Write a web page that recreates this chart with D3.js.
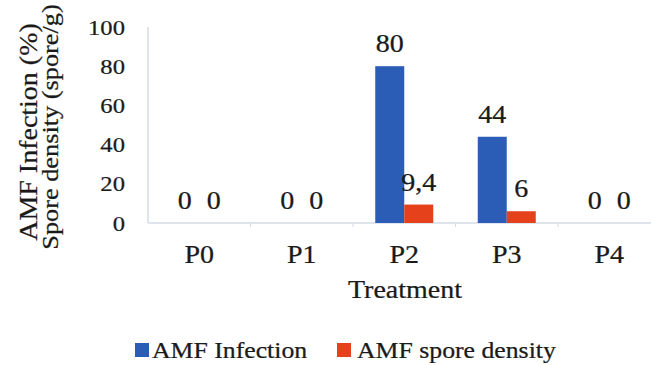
<!DOCTYPE html>
<html>
<head>
<meta charset="utf-8">
<script src="https://cdn.jsdelivr.net/npm/d3@7"></script>
<style>
  html, body { margin: 0; padding: 0; background: #fff; }
  svg { display: block; }
  text { font-family: "Liberation Serif", "Times New Roman", serif; fill: #1a1a1a; stroke: #1a1a1a; stroke-width: 0.25px; }
</style>
</head>
<body>
<svg id="chart" width="651" height="365"></svg>
<script>
const categories = ["P0", "P1", "P2", "P3", "P4"];
const seriesNames = ["AMF Infection", "AMF spore density"];
const infection = [0, 0, 80, 44, 0];
const sporeDensity = [0, 0, 9.4, 6, 0];
const yTicks = [0, 20, 40, 60, 80, 100];
const colors = ["#2b5cb6", "#e5421c"];
const yTitleLines = ["AMF Infection (%)", "Spore density (spore/g)"];
const xTitle = "Treatment";

const svg = d3.select("#chart");
const STRETCH = 1.12;
const locale = d3.formatLocale({decimal: ",", thousands: ".", grouping: [3], currency: ["", ""]});
const fmt = locale.format("~g");

function txt(x, y, s, size, anchor, rot) {
  return svg.append("text")
    .attr("transform", `translate(${x},${y}) rotate(${rot || 0}) scale(${STRETCH},1)`)
    .attr("text-anchor", anchor || "middle")
    .style("font-size", size + "px")
    .text(s);
}

const y = d3.scaleLinear().domain([0, 100]).range([223, 27]);
const x0 = d3.scaleBand().domain(categories).range([148, 660.5]).padding(0);
const x1 = d3.scaleBand().domain(seriesNames).range([0, x0.bandwidth()]).paddingInner(0).paddingOuter(0.767);

const axisColor = "#d3dcea";
svg.append("line").attr("x1", 148).attr("x2", 148).attr("y1", y(100)).attr("y2", y(0))
  .attr("stroke", axisColor).attr("stroke-width", 1.5);
svg.append("line").attr("x1", 148).attr("x2", 651).attr("y1", y(0)).attr("y2", y(0))
  .attr("stroke", axisColor).attr("stroke-width", 1.5);
categories.forEach((c, i) => {
  if (i === 0) return;
  const bx = x0(c);
  svg.append("line").attr("x1", bx).attr("x2", bx).attr("y1", y(0)).attr("y2", y(0) + 4)
    .attr("stroke", axisColor).attr("stroke-width", 1);
});

yTicks.forEach(t => {
  txt(125, y(t) + 7.5, String(t), 22, "end");
});

const data = categories.map((c, i) => ({cat: c, values: [infection[i], sporeDensity[i]]}));
data.forEach(d => {
  d.values.forEach((v, j) => {
    const bx = x0(d.cat) + x1(seriesNames[j]);
    svg.append("rect")
      .attr("x", bx).attr("width", x1.bandwidth())
      .attr("y", y(v)).attr("height", y(0) - y(v))
      .attr("fill", colors[j]);
    txt(bx + x1.bandwidth() / 2, y(v) - 14, fmt(v), 25, "middle");
  });
});

categories.forEach(c => {
  txt(x0(c) + x0.bandwidth() / 2, 263, c, 25, "middle");
});

txt(405, 298, xTitle, 25, "middle");

txt(37, 132, yTitleLines[0], 25, "middle", -90);
txt(57.5, 127, yTitleLines[1], 23.5, "middle", -90);

const legendItems = [
  {name: seriesNames[0], color: colors[0], sx: 135, tx: 152},
  {name: seriesNames[1], color: colors[1], sx: 337, tx: 357}
];
legendItems.forEach(it => {
  svg.append("rect").attr("x", it.sx).attr("y", 343).attr("width", 14).attr("height", 14).attr("fill", it.color);
  txt(it.tx, 358, it.name, 23, "start");
});
</script>
</body>
</html>
